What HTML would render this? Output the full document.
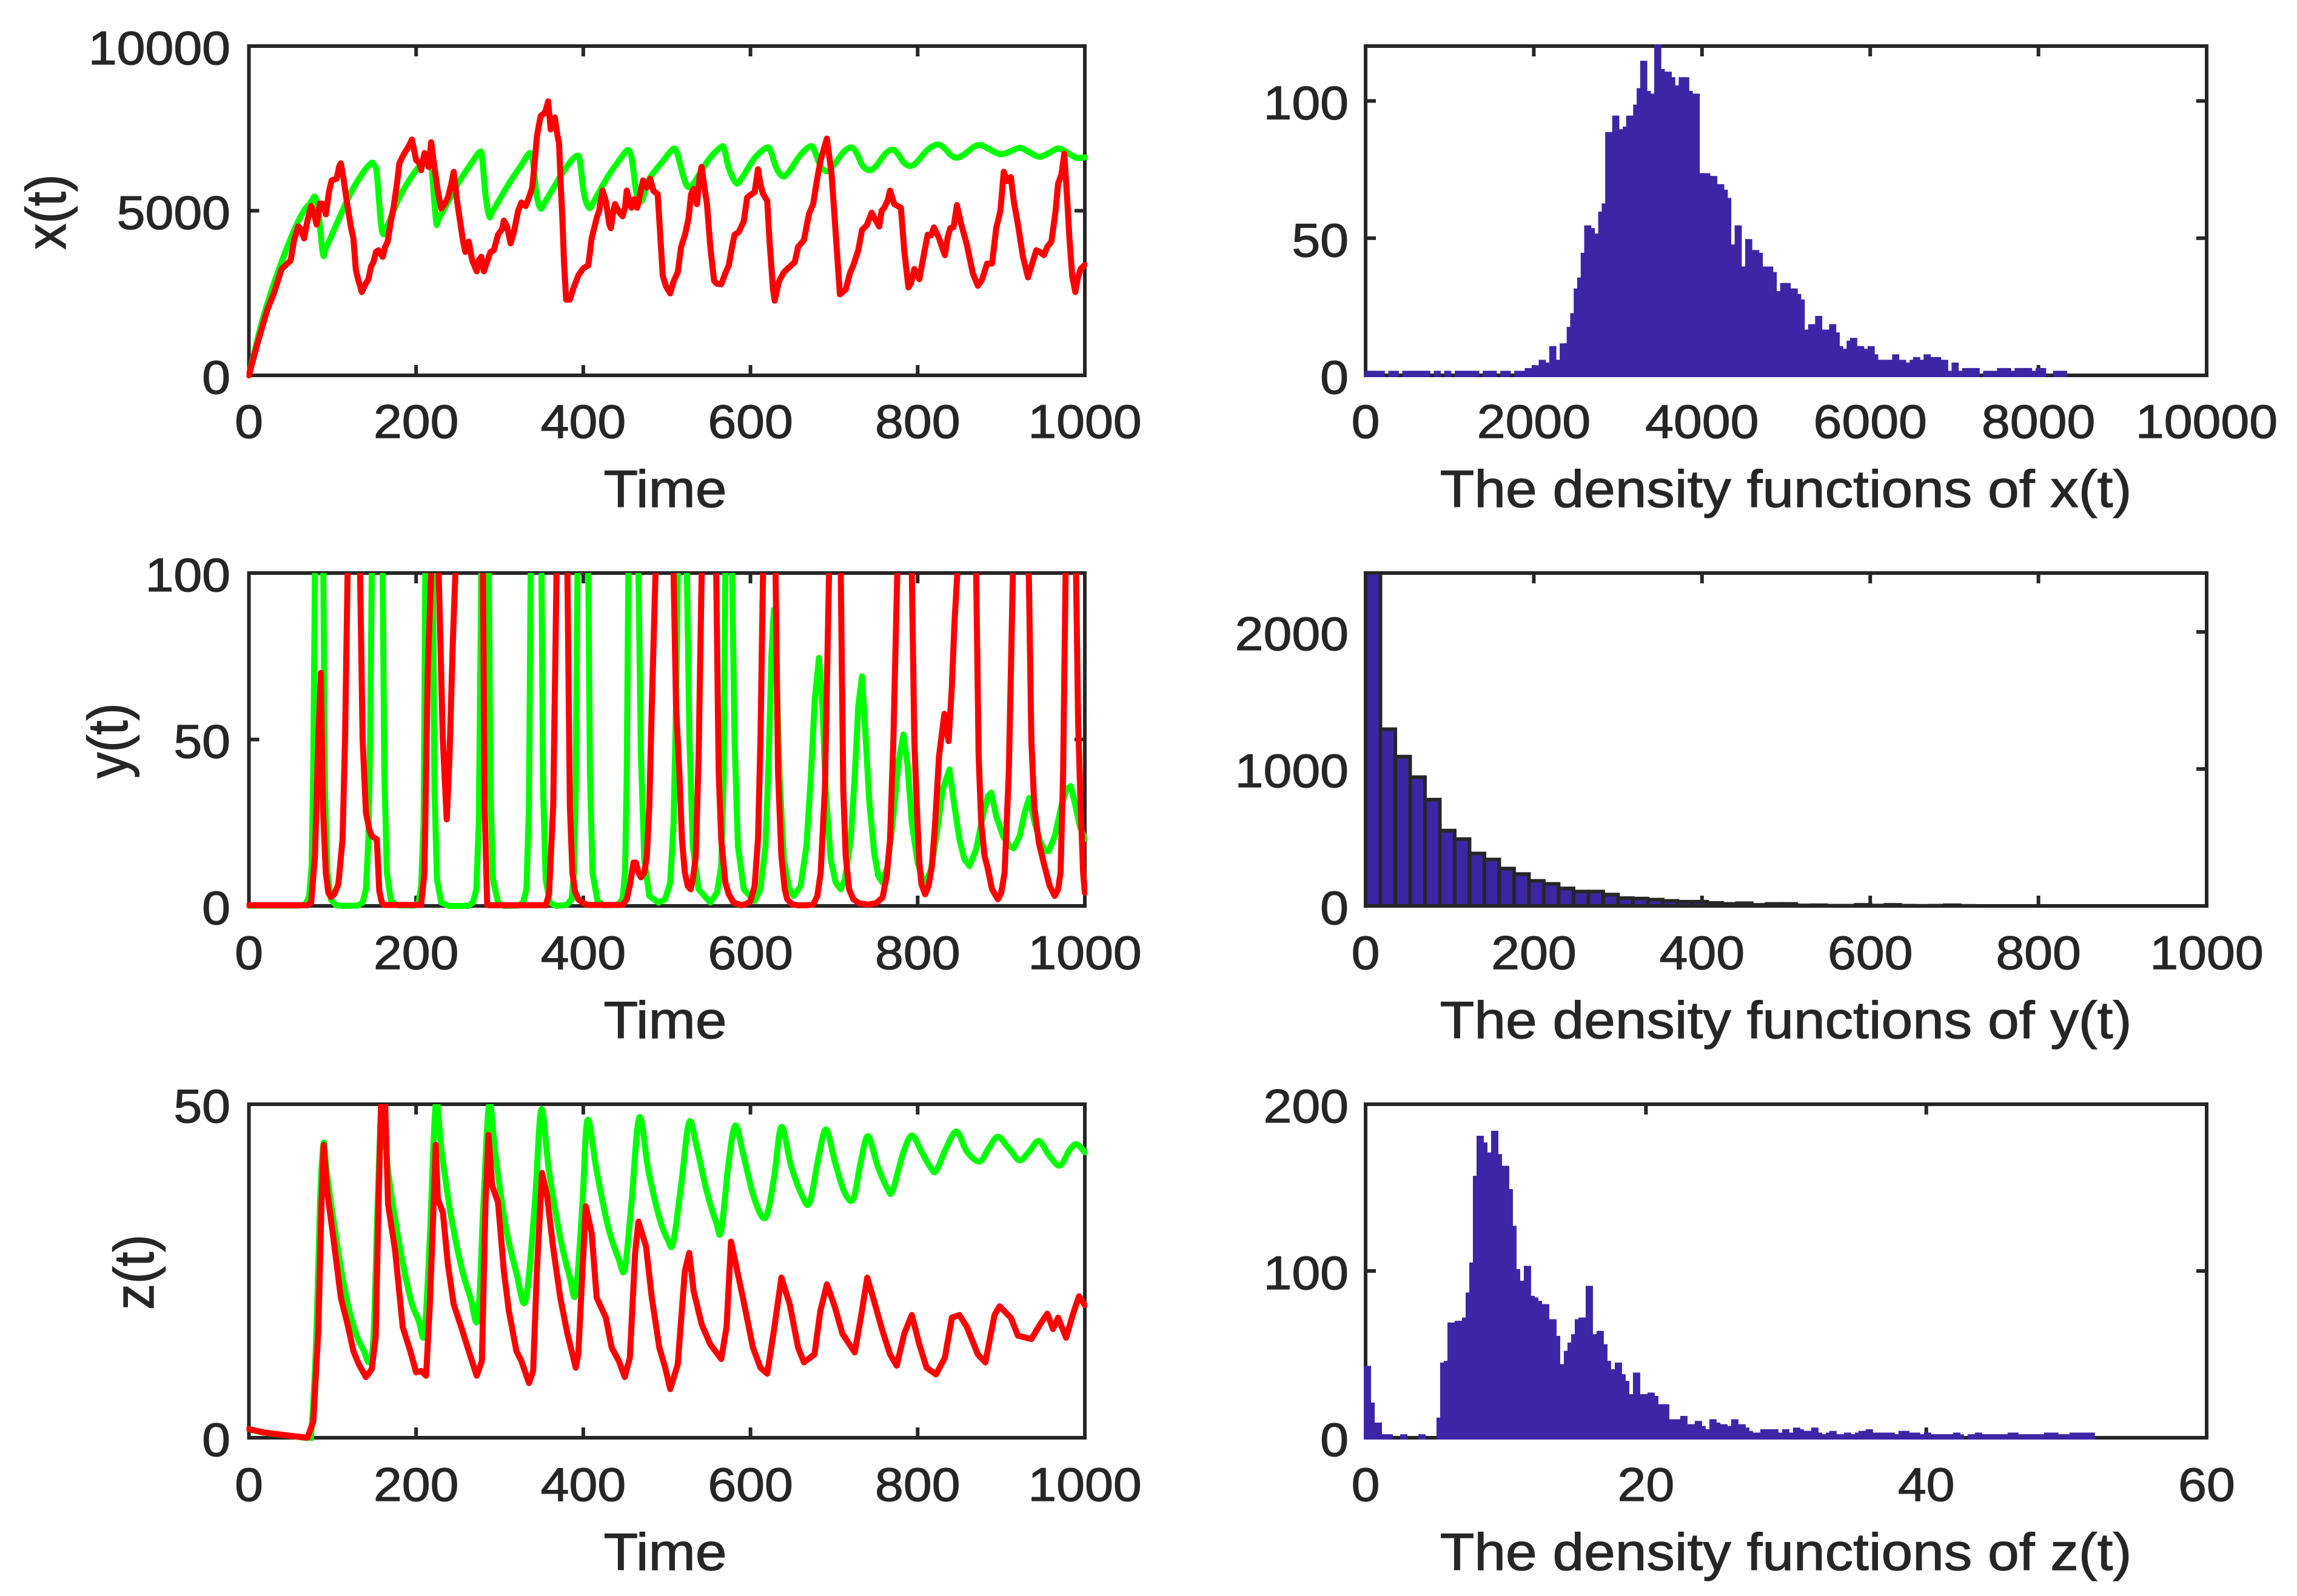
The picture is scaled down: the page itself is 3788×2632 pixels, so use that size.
<!DOCTYPE html>
<html lang="en">
<head>
<meta charset="utf-8">
<title>Time series and density functions of x(t), y(t), z(t)</title>
<style>
html,body{margin:0;padding:0;background:#fff;}
svg{display:block;}
text{font-family:"Liberation Sans",Arial,sans-serif;fill:#262626;stroke:#262626;stroke-width:1.2px;}
</style>
</head>
<body>
<svg id="figure" xmlns="http://www.w3.org/2000/svg" width="3788" height="2632" viewBox="0 0 3788 2632">
<rect x="0" y="0" width="3788" height="2632" fill="#ffffff"/>
<defs id="clips"></defs>
</svg>
<script>
// ---------- Chart data (time, value) ----------
const greenXSeries = [[0,0],[17.5,1790],[39,3440],[61,4780],[74,5250],[79,5420],[83,5000],[88.5,3700],[92,3850],[105,4600],[121,5500],[135,6100],[146,6440],[150,6380],[153,6130],[157,4900],[160,4310],[165,4500],[180,5400],[195,6050],[210,6540],[216,6650],[219,6200],[224,4680],[228,4800],[250,5820],[265,6400],[276,6780],[279,6600],[283,5500],[287.5,4830],[292,5000],[311,5820],[325,6350],[336,6750],[340,6450],[344,5500],[349,5070],[354,5250],[372,6020],[385,6500],[393,6670],[396,6500],[401,5500],[407,5090],[412,5250],[429,6020],[445,6600],[453,6840],[457,6700],[460,6230],[464,5500],[470,5300],[478,5920],[495,6500],[508,6880],[513,6700],[517,6300],[523,5800],[528,5730],[534,5900],[550,6550],[565,6940],[569,6850],[574,6300],[583,5840],[590,6000],[605,6600],[620,6920],[625,6750],[631,6300],[638,6050],[645,6150],[660,6700],[672,6960],[677,6800],[684,6350],[692,6200],[700,6400],[712,6800],[721,6920],[727,6750],[734,6380],[742,6230],[750,6350],[762,6750],[771,6850],[777,6700],[784,6450],[791,6360],[798,6450],[812,6850],[824,7010],[832,6900],[840,6680],[847,6610],[855,6700],[868,6950],[876,6990],[885,6880],[898,6720],[908,6770],[922,6910],[932,6800],[945,6640],[956,6740],[968,6890],[978,6780],[990,6610],[1000,6620]];
const redXSeries = [[0,0],[10,950],[22,1990],[30,2500],[39,3230],[50,3490],[54,4100],[59,4525],[62,4450],[66,4160],[70,4700],[74.5,5140],[78,4900],[81,4580],[85,5220],[89,5200],[92,4890],[96,5600],[99,5920],[105,5970],[108,6350],[110,6440],[113,6000],[117,5300],[122,4500],[125,4160],[128,3200],[130,2975],[135,2530],[139,2750],[143,2920],[146,3300],[149,3440],[152,3750],[155,3800],[160,3600],[163,3900],[166,4060],[170,4700],[173,5090],[177,5800],[180,6440],[183,6600],[186,6750],[190,6900],[195,7160],[198,6800],[200,6540],[204,6450],[206,6230],[210,6750],[213,6500],[215,6330],[218,7080],[223,6130],[226,5600],[230,5070],[234,5200],[238,5400],[242,5800],[245,6180],[249,5300],[252,4780],[256,4100],[259,3750],[263,4060],[267,3500],[272.5,3160],[275,3500],[278,3600],[281,3160],[285,3450],[289,3750],[293,3800],[298,4270],[303,4450],[305,4700],[309,4500],[313,4010],[317,4350],[322,4990],[326,5250],[331,5140],[335,5400],[339,5710],[342,6500],[344.5,7260],[349,7880],[353,7950],[355,8040],[358,8320],[361,7470],[364,7800],[366,7830],[369,7300],[371,7060],[373,5800],[375,4780],[377,3400],[379.5,2300],[384,2300],[389,2700],[394,3030],[400,3250],[406,3340],[410,4160],[416,4780],[419,5000],[423,5610],[427,5300],[431,4600],[433,4470],[436,5000],[438,5200],[443,4950],[447,4830],[450,5100],[452,5610],[456,5200],[457.5,5090],[461,5350],[464.5,5090],[468,5500],[471.5,5920],[476,5700],[480,5970],[484,5600],[489,5500],[492,4300],[495,3030],[499,2700],[504,2490],[508,2850],[513,3130],[517,3900],[522,4300],[526,4780],[529,5500],[532,5660],[536,5200],[539,6000],[541.5,6330],[545,5700],[548,5200],[552,3900],[556.5,2870],[560,2780],[565,2770],[570,3100],[574,3340],[578,3900],[581,4270],[586,4350],[592,4680],[596,5400],[601,5500],[605,5560],[609,6260],[612,5800],[615,5510],[620,5300],[623,4000],[627,2610],[629,2270],[634,2850],[640,3130],[647,3300],[653,3440],[657,3900],[664,4110],[670,4900],[675,5200],[680,6000],[684,6540],[688,6900],[691.5,7190],[694,6700],[697,6130],[702,4300],[707,2460],[714,2610],[719,3100],[723,3340],[729,3800],[733.5,4420],[739,4550],[745,4940],[750,4700],[754,4520],[757,5000],[760,5090],[764,5300],[767,5610],[772,5200],[780,5090],[784,3800],[789,2670],[792,2800],[796,3230],[802,2920],[807,3600],[812,4270],[816,4250],[819.5,4490],[825,4200],[832.6,3650],[836,4200],[839,4470],[843,4500],[847,5170],[852,4600],[859,3960],[866,3100],[872,2720],[877,2900],[883,3390],[889,3400],[894,4470],[899,5000],[903,6180],[907,5900],[911.5,6020],[915,5300],[920,4580],[926,3600],[932,2975],[937,3400],[942,3800],[946,3750],[951,3650],[955,3900],[960,4060],[965,5000],[968,5820],[972,6100],[975.5,6730],[979,5300],[981.6,4160],[985,3000],[988.6,2530],[992,3000],[995,3230],[1000,3360]];
const greenYSeries = [[0,0.1],[60,0.1],[68,0.5],[72,3],[75,12],[77,40],[79,100],[84,250],[89,100],[91,35],[94,10],[98,2],[104,0.3],[112,0],[130,0.1],[136,1],[140,5],[143,20],[145,50],[147,100],[153,280],[160,100],[162,40],[165,10],[170,1.5],[178,0.2],[198,0.1],[203,1],[206,6],[209,25],[211,100],[215,280],[220,100],[222,35],[225,8],[230,1],[240,0],[262,0],[268,1],[272,5],[275,25],[278,100],[282,300],[287,100],[289,35],[292,8],[298,1],[305,0],[322,0.1],[328,1],[332,5],[335,30],[337,100],[343,350],[350,100],[352,35],[355,8],[360,1],[368,0],[380,0.3],[386,2],[389,10],[391,35],[393,100],[399,300],[406,100],[408,40],[411,10],[417,1.5],[425,0.2],[441,0.3],[447,2],[450,10],[452,40],[454,100],[460,250],[466,100],[469,45],[473,14],[479,3],[490,1],[498,2],[504,7],[508,25],[511,60],[513,100],[518,200],[524,100],[527,50],[531,18],[538,5],[552,1],[560,4],[565,12],[568,40],[570,100],[574,160],[578,100],[581,50],[585,18],[592,5],[605,1.5],[612,5],[618,18],[622,45],[625,75],[628,89],[631,72],[635,38],[640,14],[646,5.5],[652,3],[660,6],[667,18],[672,38],[677,62],[682,74.5],[686,60],[690,35],[696,14],[702,7],[708,5],[713,8],[720,20],[725,40],[729,60],[733.5,69],[738,50],[742,32],[748,16],[753,9],[758,7],[764,12],[771,27],[777,43],[783,51.5],[788,42],[793,25],[800,13],[806,8],[810,7],[816,11],[823,22],[830,35],[838,41],[844,30],[850,20],[856,14],[862,12],[870,17],[878,27],[884,33],[888,34],[894,27],[902,21],[910,18],[915,17.3],[922,21],[928,28],[933.5,32.4],[940,25],[947,19],[953,16.5],[957,16.5],[964,21],[972,30],[978,35],[983,36],[988,31],[994,24],[1000,20]];
const redYSeries = [[0,0.2],[70,0.2],[74.5,1],[79,15],[83,50],[86,70],[88.5,30],[92,10],[95,4],[98,2.7],[102,3.5],[107,6.5],[112,20],[115,50],[118,100],[125,400],[133,100],[136,50],[140,28],[144,23],[147,21],[153,20],[154.5,12],[156,4.5],[159,1],[162,0.3],[206,0.3],[210,10],[214,71],[218,100],[222,200],[227,100],[232,50],[236.6,26],[240,45],[244,80],[247,100],[262,500],[280,100],[282,30],[285,0.4],[287,0.2],[355,0.2],[359,3.5],[364,30],[368,100],[374,300],[381,100],[384,30],[387,10],[390,4.5],[394,2],[399,1],[405,0.3],[447,0.3],[452,2],[456,6.5],[460,13],[463,13],[466,10],[469,8.6],[473,10],[476,14.7],[479,30],[482,60],[486.4,100],[497,300],[508,100],[511,60],[515,40],[518,20],[521.5,10],[525,6],[528.5,5],[531,8],[534.6,14.7],[538,45],[541.6,100],[550,300],[559,100],[562,40],[565,20],[570,7],[574,3.5],[580,1],[589,0.2],[595,0.6],[600,1.4],[605,6],[609,20],[612,50],[615,100],[622,300],[630,100],[633,40],[637,15],[641,5],[644,2],[650,0.5],[657,0.2],[667,0.2],[675,0.4],[680,3],[684,10],[689,35],[694,100],[701,300],[708,100],[711,35],[714,15],[718,5],[723,2],[730,0.8],[740.6,0.4],[750,0.8],[758,2.5],[763,9],[767,20],[771,50],[775.6,100],[784,300],[793,100],[796,50],[799,30],[802,13],[804.6,6.5],[809,3.5],[813,6],[817,11.7],[821,25],[825.6,45],[832,57.7],[837,49.5],[841,66],[844,85],[847.5,100],[858,300],[870,100],[873,45],[876,25],[880,15],[883.5,11.7],[889,5],[896,2],[900,4],[904,10],[909,40],[914,100],[923,300],[933,100],[936,50],[939.5,30],[945,19],[951,12.7],[958,6],[964,3],[968,5],[971,10],[974,40],[977,100],[983,300],[989.5,100],[992,55],[995,30],[998,10],[1000,4]];
const greenZSeries = [[0,1.3],[17.5,0.8],[52.6,0.25],[70,0],[74.5,0.6],[80.6,15],[85,35],[89.4,44.1],[93,40],[101,32.8],[114,22.6],[127,16],[137.6,13],[143.7,11.4],[149,15],[154,35],[158.6,50.2],[162,47],[166.5,40],[180,29],[193,21],[203,17.6],[210,15.7],[216.5,30],[223.5,50],[230.5,43],[241,33.8],[254,25.7],[265,21],[274,18],[280.5,35],[287.5,50],[295,42.4],[306.7,32],[320,24.7],[331,20.6],[342,35],[349.7,49.2],[359,40],[372.5,30],[384,24],[391,21.7],[399,35],[405,47.6],[416,40],[429.5,31.7],[442.6,26.7],[449.6,25.3],[457.5,35],[467,48],[478,40],[491,33],[501,29.7],[507.5,29.2],[517,37.8],[526.7,47.3],[536,43.4],[548,36.8],[559,32.3],[565,31],[574,41.4],[582,46.8],[591.6,42.4],[604.7,35.8],[618,33],[628,38.8],[637,46.6],[648.6,40.8],[661.7,36.3],[671,35.3],[682,42.4],[690.6,46.2],[701,41.4],[712.5,36.8],[723,35.8],[732,41.4],[740.6,45.2],[752,40.8],[764,37.3],[770,37],[782,42.4],[793,45.3],[804.6,42.9],[815,40.6],[822,40],[834,43.4],[846.6,45.9],[859,42.9],[874,41.4],[885,43.4],[896,45.1],[909,43.4],[922,41.6],[933.4,42.9],[945,44.5],[957,42.4],[970,40.8],[981.6,43.1],[990,44],[1000,42.8]];
const redZSeries = [[0,1.3],[17.5,0.8],[52.6,0.25],[70,0],[77,2.4],[83,16],[86.8,35],[89.4,43.9],[93.8,36.8],[101,30],[107,24],[110,21],[118,17],[125,13],[131.5,11],[140,9.1],[147,10.3],[151.6,15],[155,35],[158,50],[163,50],[166.5,35],[175,28],[184,16.6],[193,13],[200,9.8],[206,10],[212,9.3],[216.5,20],[221,35],[223.5,43.9],[226,35.8],[232,33.8],[238,26],[245,20],[254,16.6],[263,13],[272.5,9.3],[278.7,11.5],[283,35],[286.6,45.4],[291,37.8],[298,35.3],[305,25],[311,19],[320,13],[326,11.5],[335,8.2],[340,10],[344.5,25],[350.6,39.7],[356.7,36.3],[363.7,28.7],[372.5,21],[381,15.6],[391,10.5],[394,12.5],[399,25],[403,34.7],[410,30.7],[416,21],[427,18],[434,13.5],[442.6,11.5],[449.6,9.1],[455.7,12],[462,27.7],[466,32.4],[475,28.7],[482,21],[491,13.5],[498,10.5],[504,7.3],[513,11],[521.5,25],[526.7,27.7],[532,22],[541.6,17],[552,14],[565,11.8],[571.4,16.6],[576.7,29.4],[583,25.7],[591.6,20.6],[603,13.5],[612,10.5],[620,9.6],[628,16],[637,24],[647,20],[657,13.5],[664,11.3],[676.6,12.5],[683.6,19],[691.5,23],[701,19.6],[710,15.6],[724.8,12.8],[732,18],[739.7,24],[747.6,20.6],[758,16],[767,12.5],[775,10.8],[784,15.6],[793,18.4],[802,14],[810.7,10.5],[822,9.5],[832.6,12],[841,18],[850,18.4],[859,16.6],[872,12.5],[881,11.3],[892,18.4],[898,19.7],[911.5,18],[920,15.3],[936,14.8],[946.5,17],[955,18.6],[962,16.3],[968,18],[977.6,15],[986,18.6],[993,21.2],[1000,19.9]];

const histXCounts = [1,1,1,1,1,0,0,1,1,0,0,1,1,1,1,1,1,1,0,0,1,0,0,1,0,0,1,1,1,1,1,1,0,0,1,1,1,0,0,1,1,0,0,1,1,1,2,2,3,3,5,4,4,10,5,5,11,11,17,22,31,35,44,54,53,51,51,59,62,88,88,94,89,89,90,94,94,98,104,114,103,102,102,120,111,110,110,108,105,105,108,108,103,91,102,73,73,73,72,72,69,69,67,64,47,47,54,39,39,49,45,45,44,39,39,39,37,30,30,33,33,31,31,29,27,16,16,18,18,21,16,16,16,18,15,10,9,9,12,13,10,10,9,9,10,7,5,5,5,5,5,7,5,5,4,4,5,6,5,5,7,6,6,6,5,5,1,1,4,1,1,2,2,2,2,0,0,1,1,1,1,2,2,2,1,1,2,2,2,2,1,1,2,2,0,0,0,1,1,1];
const histYCounts = [2430,1290,1090,940,776,550,488,383,339,273,233,183,161,128,105,105,83,57,54,46,37,31,31,22,15,20,8,15,15,4,5,2,2,8,3,8,2,1,2,5,1,0,0,0,0,0,0,0,0,0,0,0,0,0,0,0,0];
const histZCounts = [42,20,8,8,1,1,1,0,0,0,1,0,0,0,0,1,0,0,0,0,11,44,45,68,68,69,69,71,86,104,156,180,176,170,170,183,169,162,162,148,126,100,93,93,102,84,83,81,79,79,70,70,60,43,43,51,56,61,70,71,71,90,61,61,63,55,45,40,40,44,37,33,25,25,38,25,25,25,26,24,19,19,19,10,10,10,10,12,7,7,7,9,6,4,4,10,8,7,7,6,6,10,7,7,5,3,2,2,2,4,4,4,4,2,2,4,2,2,5,4,3,3,3,5,2,1,1,2,3,1,1,1,2,1,1,2,3,3,4,2,2,2,2,2,2,1,1,3,3,2,2,2,1,1,2,1,1,1,1,1,1,1,2,1,0,0,1,1,2,1,1,1,1,1,1,1,1,2,2,1,1,1,1,1,1,1,1,2,2,2,1,1,1,1,2,2,2,2,2,2];
const histXBinWidth = 41.6;
const histYBinWidth = 17.66;
const histZBinWidth = 0.2595;

const timeTicks = [0,200,400,600,800,1000];
const xValueTicks = [0,5000,10000];
const yValueTicks = [0,50,100];
const zValueTicks = [0,50];
const histXTicksX = [0,2000,4000,6000,8000,10000];
const histXTicksY = [0,50,100];
const histYTicksX = [0,200,400,600,800,1000];
const histYTicksY = [0,1000,2000];
const histZTicksX = [0,20,40,60];
const histZTicksY = [0,100,200];

// ---------- Layout ----------
const SVG_NS = 'http://www.w3.org/2000/svg';
const figure = document.getElementById('figure');
const clips = document.getElementById('clips');
const INK = '#262626';
const GREEN = '#00ff00';
const RED = '#ff0000';
const BLUE = '#3c26a6';
const LINE_WIDTH = 10;
const TICK_FONT = 78, LABEL_FONT = 86, STRETCH = 1.08;
const COL_LEFT = {l:410.5, r:1789, yTickEnd:380, xLabelX:1097};
const COL_RIGHT = {l:2252, r:3639, yTickEnd:2224, xLabelX:2945};
const ROWS = [
  {t:76, b:619, tickBase:722, labelBase:836},
  {t:945, b:1494, tickBase:1598, labelBase:1712},
  {t:1821, b:2371, tickBase:2475, labelBase:2589}
];

function svgEl(tag, attrs, parent) {
  const el = document.createElementNS(SVG_NS, tag);
  for (const k in attrs) el.setAttribute(k, attrs[k]);
  (parent || figure).appendChild(el);
  return el;
}
function scale(d0, d1, r0, r1) { return v => r0 + (v - d0) / (d1 - d0) * (r1 - r0); }

function addText(parent, str, x, y, size, anchor, name, rotate) {
  const tf = 'translate(' + x + ',' + y + ') scale(' + STRETCH + ',1)' + (rotate ? ' rotate(-90)' : '');
  const el = svgEl('text', {transform: tf, 'font-size': size, 'text-anchor': anchor}, parent);
  el.textContent = str;
  
  
  return el;
}

function drawAxes(id, col, row, xMax, yMax, xTicks, yTicks, xLabel, yLabel, yLabelX) {
  const g = svgEl('g', {});
  
  
  const sx = scale(0, xMax, col.l, col.r);
  const sy = scale(0, yMax, row.b, row.t);
  const TL = 17;
  const box = svgEl('rect', {x: col.l, y: row.t, width: col.r - col.l, height: row.b - row.t, fill: 'none', stroke: INK, 'stroke-width': 6}, g);
  
  
  xTicks.forEach(v => {
    const bottom = svgEl('line', {x1: sx(v), x2: sx(v), y1: row.b, y2: row.b - TL, stroke: INK, 'stroke-width': 6}, g);
    
    
    const top = svgEl('line', {x1: sx(v), x2: sx(v), y1: row.t, y2: row.t + TL, stroke: INK, 'stroke-width': 6}, g);
    
    
    addText(g, String(v), sx(v), row.tickBase, TICK_FONT, 'middle', id + '-x-tick-label');
  });
  yTicks.forEach(v => {
    const left = svgEl('line', {x1: col.l, x2: col.l + TL, y1: sy(v), y2: sy(v), stroke: INK, 'stroke-width': 6}, g);
    
    
    const right = svgEl('line', {x1: col.r, x2: col.r - TL, y1: sy(v), y2: sy(v), stroke: INK, 'stroke-width': 6}, g);
    
    
    addText(g, String(v), col.yTickEnd, sy(v) + 30, TICK_FONT, 'end', id + '-y-tick-label');
  });
  addText(g, xLabel, col.xLabelX, row.labelBase, LABEL_FONT, 'middle', id + '-x-axis-title');
  if (yLabel) addText(g, yLabel, yLabelX, (row.t + row.b) / 2 + 2, LABEL_FONT, 'middle', id + '-y-axis-title', true);
  return {sx, sy};
}

function linePath(series, sx, sy, smooth) {
  const pts = series.map(p => [sx(p[0]), sy(p[1])]);
  let d = 'M' + pts[0][0].toFixed(1) + ' ' + pts[0][1].toFixed(1);
  for (let i = 1; i < pts.length; i++) {
    if (smooth) {
      const p0 = pts[Math.max(0, i - 2)], p1 = pts[i - 1], p2 = pts[i], p3 = pts[Math.min(pts.length - 1, i + 1)];
      const c1x = p1[0] + (p2[0] - p0[0]) / 6, c1y = p1[1] + (p2[1] - p0[1]) / 6;
      const c2x = p2[0] - (p3[0] - p1[0]) / 6, c2y = p2[1] - (p3[1] - p1[1]) / 6;
      d += 'C' + c1x.toFixed(1) + ' ' + c1y.toFixed(1) + ' ' + c2x.toFixed(1) + ' ' + c2y.toFixed(1) + ' ' + p2[0].toFixed(1) + ' ' + p2[1].toFixed(1);
    } else {
      d += 'L' + pts[i][0].toFixed(1) + ' ' + pts[i][1].toFixed(1);
    }
  }
  return d;
}

function drawLinePanel(id, col, row, yMax, yTicks, yLabel, yLabelX, green, red, smoothGreen) {
  const ax = drawAxes(id, col, row, 1000, yMax, timeTicks, yTicks, 'Time', yLabel, yLabelX);
  const clip = svgEl('clipPath', {id: 'clip-' + id}, clips);
  svgEl('rect', {x: col.l - 4, y: row.t, width: col.r - col.l + 8, height: row.b - row.t + 5}, clip);
  const greenLine = svgEl('path', {d: linePath(green, ax.sx, ax.sy, smoothGreen), fill: 'none', stroke: GREEN, 'stroke-width': LINE_WIDTH, 'stroke-linejoin': 'round', 'stroke-linecap': 'round', 'clip-path': 'url(#clip-' + id + ')'});
  
  
  const redLine = svgEl('path', {d: linePath(red, ax.sx, ax.sy, false), fill: 'none', stroke: RED, 'stroke-width': LINE_WIDTH, 'stroke-linejoin': 'round', 'stroke-linecap': 'round', 'clip-path': 'url(#clip-' + id + ')'});
  
  
}

function drawHistPanel(id, col, row, xMax, yMax, xTicks, yTicks, xLabel, counts, binWidth, edge) {
  const ax = drawAxes(id, col, row, xMax, yMax, xTicks, yTicks, xLabel, null, 0);
  const g = svgEl('g', {fill: BLUE, stroke: edge, 'stroke-width': 6});
  
  
  counts.forEach((c, i) => {
    const x0 = ax.sx(i * binWidth);
    const x1 = ax.sx(Math.min((i + 1) * binWidth, xMax));
    const yTop = ax.sy(Math.min(c, yMax));
    const bar = svgEl('rect', {x: x0, y: yTop, width: x1 - x0, height: row.b - yTop}, g);
    
    
  });
}

drawLinePanel('x-time', COL_LEFT, ROWS[0], 10000, xValueTicks, 'x(t)', 108, greenXSeries, redXSeries, true);
drawLinePanel('y-time', COL_LEFT, ROWS[1], 100, yValueTicks, 'y(t)', 210, greenYSeries, redYSeries, false);
drawLinePanel('z-time', COL_LEFT, ROWS[2], 50, zValueTicks, 'z(t)', 253, greenZSeries, redZSeries, true);
drawHistPanel('x-density', COL_RIGHT, ROWS[0], 10000, 120, histXTicksX, histXTicksY, 'The density functions of x(t)', histXCounts, histXBinWidth, BLUE);
drawHistPanel('y-density', COL_RIGHT, ROWS[1], 1000, 2430, histYTicksX, histYTicksY, 'The density functions of y(t)', histYCounts, histYBinWidth, INK);
drawHistPanel('z-density', COL_RIGHT, ROWS[2], 60, 200, histZTicksX, histZTicksY, 'The density functions of z(t)', histZCounts, histZBinWidth, BLUE);
</script>
</body>
</html>
